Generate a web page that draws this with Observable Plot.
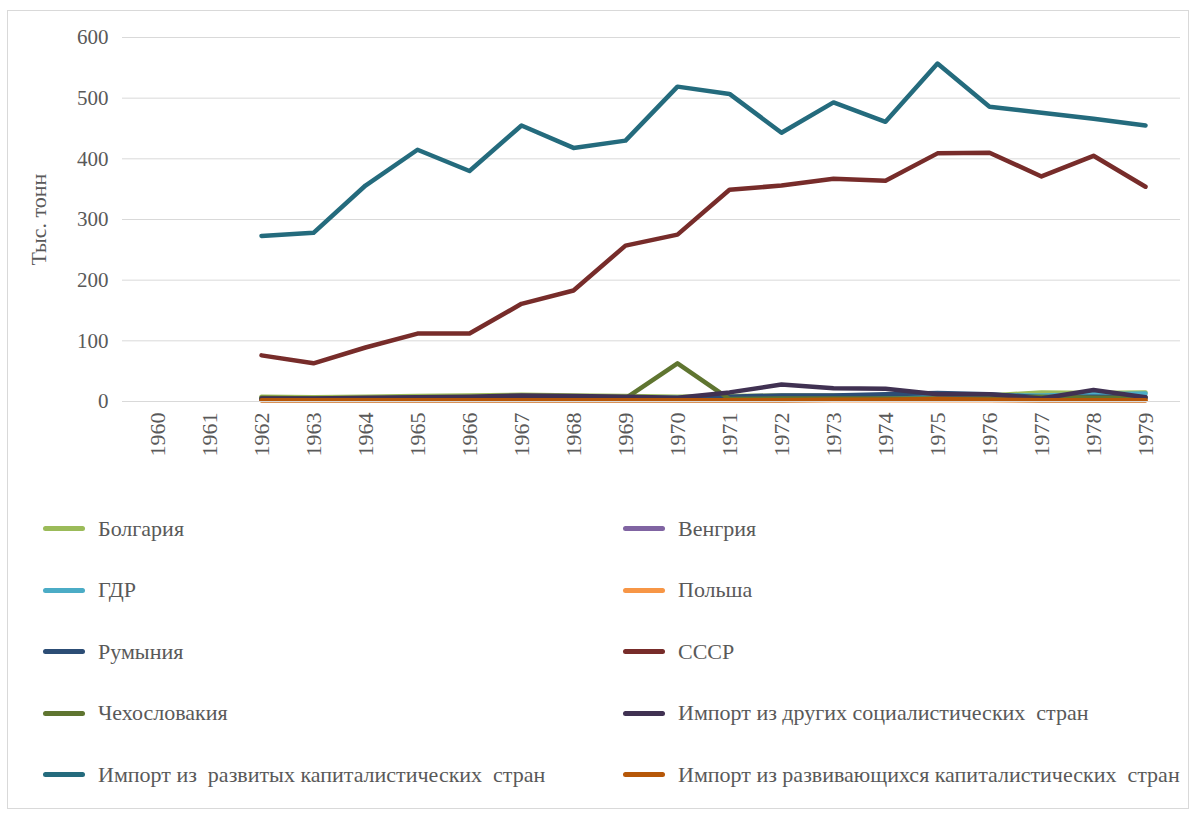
<!DOCTYPE html>
<html>
<head>
<meta charset="utf-8">
<script src="https://cdn.jsdelivr.net/npm/d3@7"></script>
<script src="https://cdn.jsdelivr.net/npm/@observablehq/plot@0.6"></script>
<style>
  body { margin: 0; background: #fff; font-family: "Liberation Serif", serif; }
  #wrap { position: relative; width: 1194px; height: 814px; }
  #frame { position: absolute; left: 7px; top: 10px; width: 1182px; height: 799px; border: 1px solid #d9d9d9; box-sizing: border-box; }
  #chart { position: absolute; left: 0; top: 0; }
  #legend { position: absolute; left: 0; top: 498px; width: 1194px; }
  .row { height: 61.5px; position: relative; }
  .item { position: absolute; top: 0; height: 61.5px; display: flex; align-items: center; color: #595959; font-size: 22px; white-space: pre; }
  .sw { width: 42px; height: 5px; border-radius: 3px; margin-right: 13px; }
</style>
</head>
<body>
<div id="wrap">
  <div id="frame"></div>
  <div id="chart"></div>
  <div id="legend"></div>
</div>
<script>
const years = d3.range(1960, 1980).map(String);
const dataYears = d3.range(1962, 1980).map(String);

const seriesNames = [
  "Болгария",
  "Венгрия",
  "ГДР",
  "Польша",
  "Румыния",
  "СССР",
  "Чехословакия",
  "Импорт из других социалистических  стран",
  "Импорт из  развитых капиталистических  стран",
  "Импорт из развивающихся капиталистических  стран"
];

const colors = ["#9BBB59", "#8064A2", "#4BACC6", "#F79646", "#2C4D75", "#772C2A", "#5F7530", "#403152", "#246B7D", "#B65708"];

// values 1962..1979, thousand tonnes
const bulgaria   = [8, 7, 8, 9, 10, 11, 10, 9, 8, 9, 10, 10, 10, 12, 10, 15, 14, 15];
const hungary    = [3, 3, 3, 3, 3, 4, 4, 4, 4, 4, 4, 4, 4, 4, 4, 4, 4, 4];
const gdr        = [5, 5, 5, 6, 6, 6, 6, 6, 6, 7, 7, 7, 8, 9, 10, 10, 12, 13];
const poland     = [2, 2, 2, 2, 2, 2, 2, 2, 2, 2, 2, 2, 2, 2, 2, 2, 2, 2];
const romania    = [3, 3, 3, 4, 4, 4, 4, 5, 5, 8, 10, 10, 12, 14, 12, 7, 8, 7];
const ussr       = [76, 63, 89, 112, 112, 161, 183, 257, 275, 349, 356, 367, 364, 409, 410, 371, 405, 354];
const czech      = [6, 5, 5, 6, 6, 6, 5, 5, 63, 4, 5, 5, 5, 5, 5, 8, 6, 6];
const otherSoc   = [5, 5, 6, 7, 8, 10, 9, 8, 6, 15, 28, 22, 21, 12, 12, 5, 19, 7];
const developed  = [273, 278, 356, 415, 380, 455, 418, 430, 519, 507, 443, 493, 461, 557, 486, 476, 466, 455];
const developing = [2, 2, 2, 2, 2, 2, 2, 2, 2, 2, 2, 3, 3, 4, 3, 2, 2, 2];

const allSeries = [bulgaria, hungary, gdr, poland, romania, ussr, czech, otherSoc, developed, developing];
const yTicks = [0, 100, 200, 300, 400, 500, 600];

const rows = [];
allSeries.forEach((vals, si) => {
  vals.forEach((v, i) => rows.push({series: seriesNames[si], year: dataYears[i], value: v}));
});

const chart = Plot.plot({
  width: 1194,
  height: 470,
  marginLeft: 122,
  marginRight: 14,
  marginTop: 37,
  marginBottom: 69,
  style: {fontFamily: "Liberation Serif, serif", fontSize: "22px", color: "#595959", background: "transparent"},
  x: {type: "point", domain: years, padding: 0.5},
  y: {domain: [0, 600]},
  color: {domain: seriesNames, range: colors},
  marks: [
    Plot.gridY(yTicks, {stroke: "#d9d9d9", strokeOpacity: 1, strokeWidth: 1}),
    Plot.axisY({ticks: yTicks, tickSize: 0, tickPadding: 14, label: null, fill: "#595959", fontSize: 21}),
    Plot.axisX({tickSize: 0, tickPadding: 11, tickRotate: -90, label: null, fill: "#595959", fontSize: 22}),
    Plot.text(["Тыс. тонн"], {frameAnchor: "left", textAnchor: "middle", dx: -84, dy: 0, rotate: -90, fill: "#595959", fontSize: 22}),
    Plot.line(rows, {x: "year", y: "value", z: "series", stroke: "series", strokeWidth: 4.5, strokeLinejoin: "round", strokeLinecap: "round"}),
    Plot.ruleY([0], {stroke: "#d9d9d9", strokeWidth: 1})
  ]
});
document.getElementById("chart").appendChild(chart);

// Legend: two columns, rows in pairs
const legend = document.getElementById("legend");
for (let r = 0; r < 5; r++) {
  const row = document.createElement("div");
  row.className = "row";
  [0, 1].forEach(c => {
    const i = r * 2 + c;
    const item = document.createElement("div");
    item.className = "item";
    item.style.left = (c === 0 ? 43 : 623) + "px";
    const sw = document.createElement("div");
    sw.className = "sw";
    sw.style.background = colors[i];
    const t = document.createElement("span");
    t.textContent = seriesNames[i];
    item.appendChild(sw);
    item.appendChild(t);
    row.appendChild(item);
  });
  legend.appendChild(row);
}
</script>
</body>
</html>
